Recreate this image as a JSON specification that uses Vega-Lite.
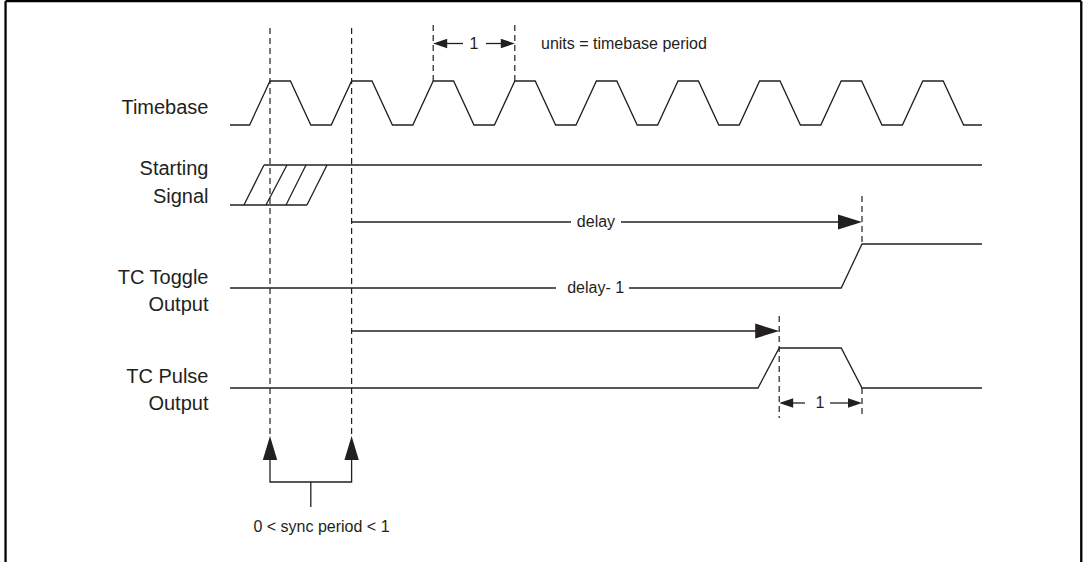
{
  "$schema": "https://vega.github.io/schema/vega-lite/v6.json",
  "width": 1086,
  "height": 562,
  "padding": 0,
  "autosize": {"type": "none"},
  "background": "white",
  "config": {"view": {"stroke": null}},
  "datasets": {
    "wave": [
      {"s": "timebase", "x": -0.49, "y": 125}, {"s": "timebase", "x": -0.25, "y": 125},
      {"s": "timebase", "x": 0, "y": 81}, {"s": "timebase", "x": 0.25, "y": 81},
      {"s": "timebase", "x": 0.5, "y": 125}, {"s": "timebase", "x": 0.75, "y": 125},
      {"s": "timebase", "x": 1, "y": 81}, {"s": "timebase", "x": 1.25, "y": 81},
      {"s": "timebase", "x": 1.5, "y": 125}, {"s": "timebase", "x": 1.75, "y": 125},
      {"s": "timebase", "x": 2, "y": 81}, {"s": "timebase", "x": 2.25, "y": 81},
      {"s": "timebase", "x": 2.5, "y": 125}, {"s": "timebase", "x": 2.75, "y": 125},
      {"s": "timebase", "x": 3, "y": 81}, {"s": "timebase", "x": 3.25, "y": 81},
      {"s": "timebase", "x": 3.5, "y": 125}, {"s": "timebase", "x": 3.75, "y": 125},
      {"s": "timebase", "x": 4, "y": 81}, {"s": "timebase", "x": 4.25, "y": 81},
      {"s": "timebase", "x": 4.5, "y": 125}, {"s": "timebase", "x": 4.75, "y": 125},
      {"s": "timebase", "x": 5, "y": 81}, {"s": "timebase", "x": 5.25, "y": 81},
      {"s": "timebase", "x": 5.5, "y": 125}, {"s": "timebase", "x": 5.75, "y": 125},
      {"s": "timebase", "x": 6, "y": 81}, {"s": "timebase", "x": 6.25, "y": 81},
      {"s": "timebase", "x": 6.5, "y": 125}, {"s": "timebase", "x": 6.75, "y": 125},
      {"s": "timebase", "x": 7, "y": 81}, {"s": "timebase", "x": 7.25, "y": 81},
      {"s": "timebase", "x": 7.5, "y": 125}, {"s": "timebase", "x": 7.75, "y": 125},
      {"s": "timebase", "x": 8, "y": 81}, {"s": "timebase", "x": 8.25, "y": 81},
      {"s": "timebase", "x": 8.5, "y": 125}, {"s": "timebase", "x": 8.725, "y": 125},
      {"s": "start_low", "x": -0.49, "y": 205}, {"s": "start_low", "x": 0.453, "y": 205},
      {"s": "start_high", "x": -0.074, "y": 165}, {"s": "start_high", "x": 8.725, "y": 165},
      {"s": "hatch1", "x": -0.319, "y": 205}, {"s": "hatch1", "x": -0.074, "y": 165},
      {"s": "hatch2", "x": -0.049, "y": 205}, {"s": "hatch2", "x": 0.208, "y": 165},
      {"s": "hatch3", "x": 0.196, "y": 205}, {"s": "hatch3", "x": 0.441, "y": 165},
      {"s": "hatch4", "x": 0.453, "y": 205}, {"s": "hatch4", "x": 0.699, "y": 165},
      {"s": "delay_a", "x": 1, "y": 222}, {"s": "delay_a", "x": 3.689, "y": 222},
      {"s": "delay_b", "x": 4.301, "y": 222}, {"s": "delay_b", "x": 7.2, "y": 222},
      {"s": "toggle_a", "x": -0.49, "y": 288}, {"s": "toggle_a", "x": 3.505, "y": 288},
      {"s": "toggle_b", "x": 4.4, "y": 288}, {"s": "toggle_b", "x": 7.0, "y": 288},
      {"s": "toggle_b", "x": 7.255, "y": 244}, {"s": "toggle_b", "x": 8.725, "y": 244},
      {"s": "pulse_arrow", "x": 1, "y": 331}, {"s": "pulse_arrow", "x": 6.2, "y": 331},
      {"s": "pulse", "x": -0.49, "y": 388}, {"s": "pulse", "x": 5.98, "y": 388},
      {"s": "pulse", "x": 6.24, "y": 348}, {"s": "pulse", "x": 7.0, "y": 348},
      {"s": "pulse", "x": 7.255, "y": 388}, {"s": "pulse", "x": 8.725, "y": 388},
      {"s": "dim1_l", "x": 2.05, "y": 43.5}, {"s": "dim1_l", "x": 2.365, "y": 43.5},
      {"s": "dim1_r", "x": 2.647, "y": 43.5}, {"s": "dim1_r", "x": 2.95, "y": 43.5},
      {"s": "dim2_l", "x": 6.3, "y": 403}, {"s": "dim2_l", "x": 6.556, "y": 403},
      {"s": "dim2_r", "x": 6.863, "y": 403}, {"s": "dim2_r", "x": 7.2, "y": 403},
      {"s": "bracket", "x": 0, "y": 455}, {"s": "bracket", "x": 0, "y": 482},
      {"s": "bracket", "x": 1, "y": 482}, {"s": "bracket", "x": 1, "y": 455},
      {"s": "stem", "x": 0.5, "y": 482}, {"s": "stem", "x": 0.5, "y": 507}
    ],
    "guides": [
      {"x": 0, "y": 28, "y2": 434},
      {"x": 1, "y": 28, "y2": 434},
      {"x": 2, "y": 25, "y2": 81},
      {"x": 3, "y": 25, "y2": 81},
      {"x": 7.255, "y": 196, "y2": 244},
      {"x": 6.24, "y": 316, "y2": 418},
      {"x": 7.255, "y": 388, "y2": 418}
    ],
    "frame": [
      {"x": -3.241, "x2": 9.942, "y": 1.2, "y2": 1.2},
      {"x": -3.241, "x2": -3.241, "y": 1.2, "y2": 562},
      {"x": 9.942, "x2": 9.942, "y": 1.2, "y2": 562}
    ],
    "heads": [
      {"kind": "big-right", "x": 7.255, "y": 222},
      {"kind": "big-right", "x": 6.24, "y": 331},
      {"kind": "small-left", "x": 2, "y": 43.5},
      {"kind": "small-left", "x": 6.24, "y": 403},
      {"kind": "small-right", "x": 3, "y": 43.5},
      {"kind": "small-right", "x": 7.255, "y": 403},
      {"kind": "up", "x": 0, "y": 436},
      {"kind": "up", "x": 1, "y": 436}
    ],
    "labels": [
      {"x": -0.754, "y": 114, "t": "Timebase"},
      {"x": -0.754, "y": 175, "t": "Starting"},
      {"x": -0.754, "y": 203, "t": "Signal"},
      {"x": -0.754, "y": 284, "t": "TC Toggle"},
      {"x": -0.754, "y": 311, "t": "Output"},
      {"x": -0.754, "y": 383, "t": "TC Pulse"},
      {"x": -0.754, "y": 410, "t": "Output"}
    ],
    "notes": [
      {"x": 2.5, "y": 43.5, "t": "1"},
      {"x": 3.995, "y": 222, "t": "delay"},
      {"x": 3.99, "y": 288, "t": "delay- 1"},
      {"x": 6.74, "y": 403, "t": "1"},
      {"x": 0.631, "y": 527, "t": "0 < sync period < 1"}
    ],
    "units": [
      {"x": 3.321, "y": 44, "t": "units = timebase period"}
    ]
  },
  "encoding": {
    "x": {"field": "x", "type": "quantitative", "axis": null,
          "scale": {"domain": [-3.309, 10.0], "nice": false, "zero": false}},
    "y": {"field": "y", "type": "quantitative", "axis": null,
          "scale": {"domain": [0, 562], "reverse": true, "nice": false, "zero": false}}
  },
  "layer": [
    {
      "data": {"name": "frame"},
      "mark": {"type": "rule", "color": "#000000", "strokeWidth": 2.3},
      "encoding": {"x2": {"field": "x2"}, "y2": {"field": "y2"}}
    },
    {
      "data": {"name": "guides"},
      "mark": {"type": "rule", "color": "#231f20", "strokeWidth": 1.2, "strokeDash": [6, 4]},
      "encoding": {"y2": {"field": "y2"}}
    },
    {
      "data": {"name": "wave"},
      "mark": {"type": "line", "color": "#231f20", "strokeWidth": 1.3},
      "encoding": {"detail": {"field": "s"}, "order": {"value": null}}
    },
    {
      "data": {"name": "heads"},
      "transform": [{"filter": "datum.kind === 'big-right'"}],
      "mark": {"type": "point", "filled": true, "opacity": 1, "color": "#231f20", "strokeWidth": 0,
               "shape": "M0,0L-2,-0.625L-2,0.625Z", "size": 576}
    },
    {
      "data": {"name": "heads"},
      "transform": [{"filter": "datum.kind === 'small-right'"}],
      "mark": {"type": "point", "filled": true, "opacity": 1, "color": "#231f20", "strokeWidth": 0,
               "shape": "M0,0L-2,-0.68L-2,0.68Z", "size": 196}
    },
    {
      "data": {"name": "heads"},
      "transform": [{"filter": "datum.kind === 'small-left'"}],
      "mark": {"type": "point", "filled": true, "opacity": 1, "color": "#231f20", "strokeWidth": 0,
               "shape": "M0,0L2,-0.68L2,0.68Z", "size": 196}
    },
    {
      "data": {"name": "heads"},
      "transform": [{"filter": "datum.kind === 'up'"}],
      "mark": {"type": "point", "filled": true, "opacity": 1, "color": "#231f20", "strokeWidth": 0,
               "shape": "M0,0L-0.6,2L0.6,2Z", "size": 576}
    },
    {
      "data": {"name": "labels"},
      "mark": {"type": "text", "align": "right", "baseline": "alphabetic", "fontSize": 20,
               "font": "Liberation Sans, Arial, sans-serif", "color": "#231f20"},
      "encoding": {"text": {"field": "t"}}
    },
    {
      "data": {"name": "notes"},
      "mark": {"type": "text", "align": "center", "baseline": "middle", "fontSize": 16,
               "font": "Liberation Sans, Arial, sans-serif", "color": "#231f20"},
      "encoding": {"text": {"field": "t"}}
    },
    {
      "data": {"name": "units"},
      "mark": {"type": "text", "align": "left", "baseline": "middle", "fontSize": 16,
               "font": "Liberation Sans, Arial, sans-serif", "color": "#231f20"},
      "encoding": {"text": {"field": "t"}}
    }
  ]
}
